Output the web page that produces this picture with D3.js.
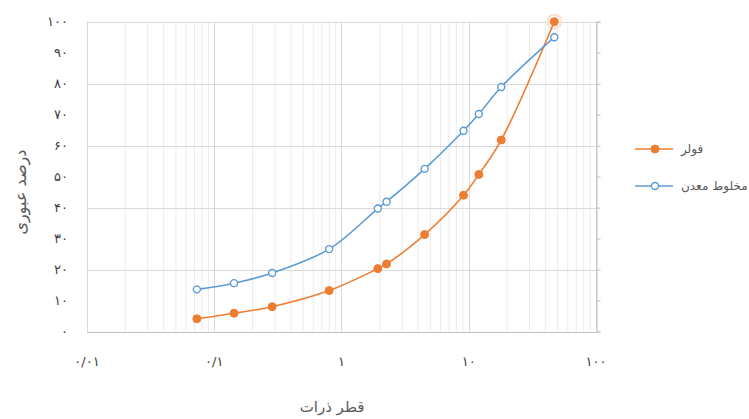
<!DOCTYPE html>
<html>
<head>
<meta charset="utf-8">
<script src="https://cdn.jsdelivr.net/npm/d3@7"></script>
<style>
  html, body { margin: 0; padding: 0; background: #fff; }
  svg { display: block; }
  text { font-family: "DejaVu Sans", "Noto Sans", sans-serif; fill: #595959; }
  .tick-label { fill: #404040; }
</style>
</head>
<body>
<svg id="chart" width="749" height="419"></svg>
<script>
// Particle size (mm) on a log axis, passing percentage on a linear axis
const sizes = [0.073, 0.143, 0.285, 0.8, 1.93, 2.26, 4.5, 9.1, 12, 18, 47];
const fullerValues = [4.1, 5.9, 8.0, 13.2, 20.3, 21.8, 31.3, 44.0, 50.7, 61.8, 100];
const mixValues = [13.6, 15.6, 18.9, 26.6, 39.7, 41.9, 52.5, 64.8, 70.2, 78.9, 95.0];

const seriesNames = ["فولر", "مخلوط معدن"];
const xTickValues = [0.01, 0.1, 1, 10, 100];
const xTickLabels = ["۰/۰۱", "۰/۱", "۱", "۱۰", "۱۰۰"];
const yTickValues = [0, 10, 20, 30, 40, 50, 60, 70, 80, 90, 100];
const yTickLabels = ["۰", "۱۰", "۲۰", "۳۰", "۴۰", "۵۰", "۶۰", "۷۰", "۸۰", "۹۰", "۱۰۰"];
const xTitle = "قطر ذرات";
const yTitle = "درصد عبوری";

const svg = d3.select("#chart");
const plotL = 87, plotR = 596, plotT = 21.7, plotB = 331.5;

const x = d3.scaleLog().domain([0.01, 100]).range([plotL, plotR]);
const y = d3.scaleLinear().domain([0, 100]).range([plotB, plotT]);

// minor log gridlines
const minor = [];
for (let d = 0.01; d < 100; d *= 10) {
  for (let k = 2; k <= 9; k++) minor.push(d * k);
}
svg.append("g").selectAll("line").data(minor).join("line")
  .attr("x1", d => x(d)).attr("x2", d => x(d))
  .attr("y1", plotT).attr("y2", plotB)
  .attr("stroke", "#ececec").attr("stroke-width", 1);

// major vertical gridlines
svg.append("g").selectAll("line").data(xTickValues).join("line")
  .attr("x1", d => Math.round(x(d)) + 0.5).attr("x2", d => Math.round(x(d)) + 0.5)
  .attr("y1", plotT).attr("y2", plotB)
  .attr("stroke", "#d9d9d9").attr("stroke-width", 1);

// horizontal gridlines every 20
svg.append("g").selectAll("line").data([20, 40, 60, 80, 100]).join("line")
  .attr("x1", plotL).attr("x2", plotR)
  .attr("y1", d => Math.round(y(d)) + 0.5).attr("y2", d => Math.round(y(d)) + 0.5)
  .attr("stroke", "#d9d9d9").attr("stroke-width", 1);

// bottom axis line
svg.append("line")
  .attr("x1", plotL).attr("x2", plotR)
  .attr("y1", Math.round(plotB) + 0.5).attr("y2", Math.round(plotB) + 0.5)
  .attr("stroke", "#bfbfbf");

// right axis with outward ticks
const rightAxis = svg.append("g")
  .attr("transform", `translate(${Math.round(plotR) + 0.5},0)`)
  .call(d3.axisRight(y).tickValues(yTickValues).tickSize(4).tickFormat(""));
rightAxis.select(".domain").attr("stroke", "#bfbfbf");
rightAxis.selectAll(".tick line").attr("stroke", "#bfbfbf");

// left tick labels
svg.append("g").selectAll("text").data(yTickValues).join("text")
  .attr("class", "tick-label")
  .attr("x", 68).attr("y", d => y(d))
  .attr("dy", "0.35em")
  .attr("text-anchor", "end")
  .attr("font-size", 13)
  .text((d, i) => yTickLabels[i]);

// bottom tick labels
svg.append("g").selectAll("text").data(xTickValues).join("text")
  .attr("class", "tick-label")
  .attr("x", d => x(d)).attr("y", 361)
  .attr("dy", "0.35em")
  .attr("text-anchor", "middle")
  .attr("font-size", 13)
  .text((d, i) => xTickLabels[i]);

// axis titles
svg.append("text")
  .attr("x", 332).attr("y", 407)
  .attr("dy", "0.35em")
  .attr("text-anchor", "middle")
  .attr("font-size", 15)
  .text(xTitle);

svg.append("text")
  .attr("transform", "translate(20,192) rotate(-90)")
  .attr("dy", "0.35em")
  .attr("text-anchor", "middle")
  .attr("font-size", 16)
  .text(yTitle);

const series = [
  { name: seriesNames[0], values: fullerValues, color: "#ED7D31", filled: true },
  { name: seriesNames[1], values: mixValues, color: "#5B9BD5", filled: false }
];

const line = d3.line()
  .x(d => x(d[0])).y(d => y(d[1]))
  .curve(d3.curveCatmullRom.alpha(0.5));

// faint highlight ring around the last Fuller point
svg.append("circle")
  .attr("cx", x(sizes[sizes.length - 1]))
  .attr("cy", y(fullerValues[fullerValues.length - 1]))
  .attr("r", 7)
  .attr("fill", "none")
  .attr("stroke", "#fbe6d6")
  .attr("stroke-width", 2.5);

series.forEach(s => {
  const pts = sizes.map((v, i) => [v, s.values[i]]);
  svg.append("path")
    .datum(pts)
    .attr("d", line)
    .attr("fill", "none")
    .attr("stroke", s.color)
    .attr("stroke-width", 1.6);
  svg.append("g").selectAll("circle").data(pts).join("circle")
    .attr("cx", d => x(d[0])).attr("cy", d => y(d[1]))
    .attr("r", s.filled ? 4 : 3.5)
    .attr("fill", s.filled ? s.color : "#fff")
    .attr("stroke", s.color)
    .attr("stroke-width", s.filled ? 1 : 1.4);
});

// legend
const legend = svg.append("g");
series.forEach((s, i) => {
  const ly = 149 + i * 37;
  legend.append("line")
    .attr("x1", 635).attr("x2", 673)
    .attr("y1", ly).attr("y2", ly)
    .attr("stroke", s.color).attr("stroke-width", 1.6);
  legend.append("circle")
    .attr("cx", 655).attr("cy", ly)
    .attr("r", s.filled ? 4 : 3.5)
    .attr("fill", s.filled ? s.color : "#fff")
    .attr("stroke", s.color)
    .attr("stroke-width", s.filled ? 1 : 1.4);
  legend.append("text")
    .attr("x", 681).attr("y", ly)
    .attr("dy", "0.35em")
    .attr("text-anchor", "start")
    .attr("font-size", 12)
    .text(s.name);
});
</script>
</body>
</html>
